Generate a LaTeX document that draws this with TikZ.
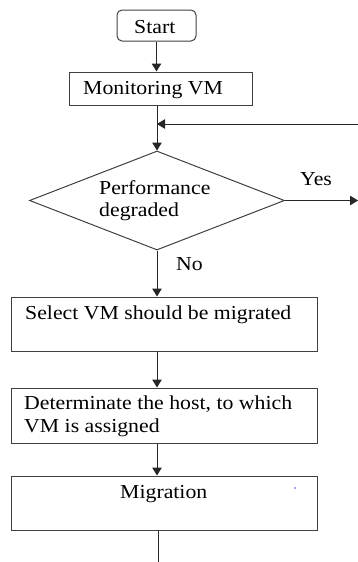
\documentclass[tikz,border=0pt]{standalone}
\usepackage{fontspec}
\setmainfont{Liberation Serif}[FakeStretch=1.1]
\usetikzlibrary{arrows.meta,shapes.geometric}
\begin{document}
\begin{tikzpicture}[x=1pt,y=-1pt,
  box/.style={draw=black!75, line width=1pt, rectangle, inner sep=0pt},
  txt/.style={inner sep=0pt, anchor=base west, font=\fontsize{19.8}{23}\selectfont},
  conn/.style={draw=black!85, line width=1pt},
  arr/.style={conn, -{Triangle[width=9.5pt,length=8pt]}}]
\useasboundingbox (0,0) rectangle (358,562);
% boxes
\node[box, rounded corners=5pt, minimum width=79pt, minimum height=31pt] (start) at (156.5,25.5) {};
\node[box, minimum width=183pt, minimum height=33pt] (monitor) at (160.5,88.5) {};
\node[box, diamond, minimum width=255pt, minimum height=99pt] (diam) at (157,200.5) {};
\node[box, minimum width=306pt, minimum height=54pt] (select) at (164,324) {};
\node[box, minimum width=306pt, minimum height=55pt] (determ) at (164,415.5) {};
\node[box, minimum width=306pt, minimum height=54pt] (migr) at (164,503) {};
% texts
\node[txt] (tstart) at (134,33) {Start};
\node[txt] (tmon) at (83,94) {Monitoring VM};
\node[txt] (tperf) at (99,194) {Performance};
\node[txt] (tdeg) at (99,216) {degraded};
\node[txt] (tyes) at (300,185.5) {Yes};
\node[txt] (tno) at (176,270.5) {No};
\node[txt] (tsel) at (25,319) {Select VM should be migrated};
\node[txt] (tdet1) at (24,409.5) {Determinate the host, to which};
\node[txt] (tdet2) at (24,432.5) {VM is assigned};
\node[txt] (tmig) at (120,498) {Migration};
% connectors
\coordinate (fb) at (358,124);
\coordinate (yesend) at (358,200.5);
\coordinate (bot) at (158,562);
\draw[arr] (start.south) -- (start.south |- monitor.north);
\draw[arr] (diam.north |- monitor.south) -- (diam.north);
\draw[arr] (fb) -- (fb -| diam.north);
\draw[arr] (diam.east) -- (yesend);
\draw[arr] (diam.south) -- (diam.south |- select.north);
\draw[arr] (diam.south |- select.south) -- (diam.south |- determ.north);
\draw[arr] (diam.south |- determ.south) -- (diam.south |- migr.north);
\draw[conn] (bot |- migr.south) -- (bot);
\fill[blue!70] (295,488) circle (0.8pt);
\end{tikzpicture}
\end{document}
